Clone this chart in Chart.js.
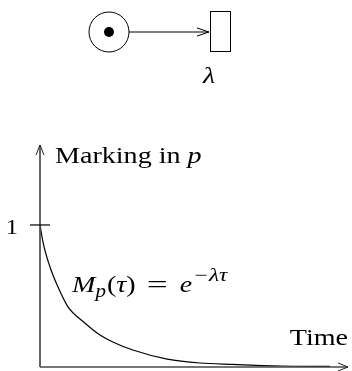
<!DOCTYPE html>
<html>
<head>
<meta charset="utf-8">
<script src="https://cdn.jsdelivr.net/npm/chart.js@4/dist/chart.umd.min.js"></script>
<style>
  html, body { margin: 0; padding: 0; background: #fff; }
  #wrap { width: 352px; height: 371px; }
</style>
</head>
<body>
<div id="wrap"><canvas id="myChart"></canvas></div>
<script>
// curve: time vs marking in p
const times = [0, 0.08, 0.25, 0.45, 0.7, 1.12, 1.5, 1.82, 2.32, 3.18, 4.0, 4.82, 6.0, 7.25]
const marking = [1.0, 0.873, 0.704, 0.563, 0.423, 0.31, 0.225, 0.176, 0.12, 0.056, 0.028, 0.018, 0.007, 0.004]
const yTicks = [1]
const yTickLabels = ['1']
const xAxisTitle = 'Time'
const yAxisTitle = 'Marking in '
const transitionLabel = 'λ'

const serif = '"Liberation Serif", "DejaVu Serif", serif'
const SX = 1.17 // the TeX-like lettering is wider than Liberation Serif
const ctx = document.getElementById('myChart')

function arrowHead(c, x, y, dx, dy, len, spread) {
  // open "V" arrow head pointing in direction (dx, dy)
  const px = -dy, py = dx
  c.beginPath()
  c.moveTo(x - dx * len + px * spread, y - dy * len + py * spread)
  c.lineTo(x, y)
  c.lineTo(x - dx * len - px * spread, y - dy * len - py * spread)
  c.stroke()
}

// draws text stretched horizontally, returns its width
function txt(c, s, x, y, font, align, sx = SX) {
  c.save()
  c.font = font
  const w = c.measureText(s).width * sx
  let ax = x
  if (align === 'right') ax = x - w
  if (align === 'center') ax = x - w / 2
  c.translate(ax, y)
  c.scale(sx, 1)
  c.textAlign = 'left'
  c.textBaseline = 'alphabetic'
  c.fillText(s, 0, 0)
  c.restore()
  return w
}

const drawings = {
  id: 'drawings',
  afterDatasetsDraw(chart) {
    const c = chart.ctx
    const xs = chart.scales.x
    const ys = chart.scales.y
    const x0 = xs.getPixelForValue(0)
    const y0 = ys.getPixelForValue(0)
    const xEnd = xs.getPixelForValue(xs.max)
    const yEnd = ys.getPixelForValue(ys.max)
    const rm = '24px ' + serif
    const it = 'italic 24px ' + serif
    const itSmall = 'italic 18px ' + serif
    c.save()

    // axes
    c.strokeStyle = '#4a4a4a'
    c.lineWidth = 1.7
    c.beginPath()
    c.moveTo(x0, y0)
    c.lineTo(x0, yEnd)
    c.moveTo(x0, y0)
    c.lineTo(xEnd, y0)
    c.stroke()
    c.lineWidth = 1
    c.strokeStyle = '#222'
    arrowHead(c, x0, yEnd, 0, -1, 10, 4)
    arrowHead(c, xEnd, y0, 1, 0, 10, 4)

    // y tick
    c.fillStyle = '#000'
    c.strokeStyle = '#000'
    c.lineWidth = 1.2
    yTicks.forEach((v, i) => {
      const py = ys.getPixelForValue(v)
      c.beginPath()
      c.moveTo(x0 - 10, py)
      c.lineTo(x0 + 10, py)
      c.stroke()
      txt(c, yTickLabels[i], x0 - 22, py + 9, '21px ' + serif, 'right')
    })

    // axis titles
    let w = txt(c, yAxisTitle, x0 + 15, yEnd + 18, rm)
    txt(c, 'p', x0 + 15 + w, yEnd + 18, it)
    txt(c, xAxisTitle, xEnd, y0 - 22, rm, 'right')

    // formula M_p(τ) = e^{-λτ}
    let fx = 72
    const fy = 292
    fx += txt(c, 'M', fx, fy, it)
    fx += txt(c, 'p', fx, fy + 5, itSmall) + 1
    fx += txt(c, '(', fx, fy, rm)
    fx += txt(c, 'τ', fx, fy, it)
    fx += txt(c, ')', fx, fy, rm) + 11
    fx += txt(c, '=', fx, fy, rm, 'left', 1.55) + 12
    fx += txt(c, 'e', fx, fy, it) + 1
    txt(c, '−λτ', fx, fy - 11, itSmall, 'left', 1.3)

    // petri net: place with token, arc, transition
    c.lineWidth = 1
    c.beginPath()
    c.arc(109, 32, 20, 0, Math.PI * 2)
    c.stroke()
    c.beginPath()
    c.arc(109, 32, 5, 0, Math.PI * 2)
    c.fill()
    c.beginPath()
    c.moveTo(129, 32)
    c.lineTo(209, 32)
    c.stroke()
    arrowHead(c, 209, 32, 1, 0, 12, 4)
    c.strokeRect(210.5, 11.5, 20, 40)
    txt(c, transitionLabel, 209, 83, it, 'center')

    c.restore()
  }
}

const myChart = new Chart(ctx, {
  type: 'scatter',
  data: {
    datasets: [{
      data: times.map((t, i) => ({ x: t, y: marking[i] })),
      showLine: true,
      borderColor: '#000',
      borderWidth: 1.2,
      pointRadius: 0,
      cubicInterpolationMode: 'monotone',
      fill: false
    }]
  },
  options: {
    responsive: true,
    maintainAspectRatio: false,
    animation: false,
    layout: { padding: { left: 40, right: 4, top: 145, bottom: 4 } },
    plugins: { legend: { display: false }, tooltip: { enabled: false } },
    scales: {
      x: { type: 'linear', min: 0, max: 7.7, display: false },
      y: { type: 'linear', min: 0, max: 1.563, display: false }
    }
  },
  plugins: [drawings]
})
</script>
</body>
</html>
